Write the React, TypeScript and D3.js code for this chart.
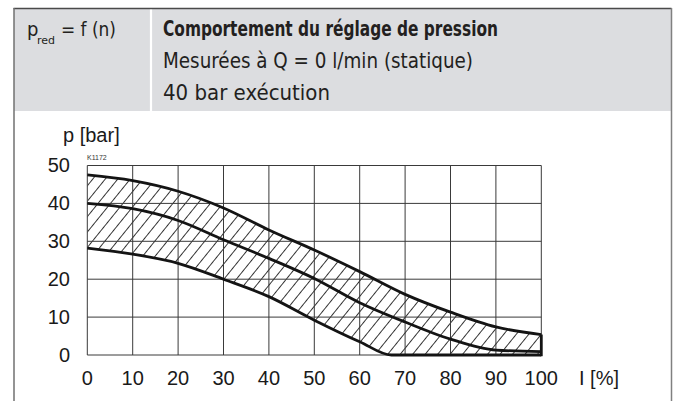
import React from "react";
import * as d3 from "d3";

// ---- data ----
const xTicks = [0, 10, 20, 30, 40, 50, 60, 70, 80, 90, 100];
const yTicks = [0, 10, 20, 30, 40, 50];
const xValues = [0, 10, 20, 30, 40, 50, 60, 70, 80, 90, 100];
const upperValues = [47.5, 46.0, 43.2, 38.8, 33.0, 27.7, 22.0, 16.0, 11.3, 7.4, 5.4];
const middleValues = [40.0, 38.6, 35.5, 30.4, 25.5, 20.2, 13.8, 8.7, 4.2, 1.3, 0.9];
const lowerX = [0, 10, 20, 30, 40, 50, 60, 67, 70, 80, 90, 100];
const lowerValues = [28.2, 26.6, 24.2, 20.0, 15.4, 9.2, 3.5, 0, 0, 0, 0, 0];

const titleLeft = "p";
const titleSub = "red";
const titleLeftRest = "= f (n)";
const titleLines = [
  "Comportement du réglage de pression",
  "Mesurées à Q = 0 l/min (statique)",
  "40 bar exécution",
];
const yLabel = "p [bar]";
const xLabel = "I [%]";
const codeLabel = "K1172";

type P = [number, number];

export default function App() {
  const W = 678;
  const H = 401;
  const x = d3.scaleLinear().domain([0, 100]).range([87.3, 541.3]);
  const y = d3.scaleLinear().domain([0, 50]).range([355, 165.5]);

  const upper: P[] = xValues.map((v, i) => [v, upperValues[i]]);
  const middle: P[] = xValues.map((v, i) => [v, middleValues[i]]);
  const lower: P[] = lowerX.map((v, i) => [v, lowerValues[i]]);

  const line = d3
    .line<P>()
    .x((d) => x(d[0]))
    .y((d) => y(d[1]))
    .curve(d3.curveMonotoneX);
  const area = d3
    .area<P>()
    .x((d) => x(d[0]))
    .y0(y(0))
    .y1((d) => y(d[1]))
    .curve(d3.curveMonotoneX);

  const chartFont = { fontFamily: '"Liberation Sans", Arimo, Arial, sans-serif' };
  const headFont = {
    fontFamily: '"Liberation Sans Narrow", "DejaVu Sans Condensed", Roboto, sans-serif',
  };
  const lastUpper = upperValues[upperValues.length - 1];

  return (
    <svg
      width={W}
      height={H}
      viewBox={`0 0 ${W} ${H}`}
      style={{ position: "absolute", left: 0, top: 0, background: "#fff" }}
    >
      <defs>
        <pattern
          id="hatch"
          patternUnits="userSpaceOnUse"
          width={9.7}
          height={9.7}
          patternTransform="rotate(39)"
        >
          <line x1={0.5} y1={-1} x2={0.5} y2={11} stroke="#222" strokeWidth={0.9} />
        </pattern>
        <mask id="band">
          <path d={area(upper) || ""} fill="white" />
          <path d={area(lower) || ""} fill="black" />
        </mask>
      </defs>

      {/* frame + header */}
      <rect x={14} y={8.5} width={657} height={102.5} fill="#dcdde0" />
      <line x1={151} y1={9} x2={151} y2={111} stroke="#fff" strokeWidth={2.2} />
      <line x1={13.5} y1={8.5} x2={671.5} y2={8.5} stroke="#4a4a4a" strokeWidth={1.5} />
      <line x1={14} y1={8} x2={14} y2={H} stroke="#707070" strokeWidth={1.5} />
      <line x1={671.5} y1={8} x2={671.5} y2={H} stroke="#808080" strokeWidth={1.5} />

      <text x={27} y={36} style={headFont} fontSize={20} fill="#231f20">
        {titleLeft}
      </text>
      <text x={37} y={43.5} style={headFont} fontSize={10.5} fill="#231f20" textLength={18} lengthAdjust="spacingAndGlyphs">
        {titleSub}
      </text>
      <text x={61} y={36} style={headFont} fontSize={20} fill="#231f20" textLength={55} lengthAdjust="spacingAndGlyphs">
        {titleLeftRest}
      </text>
      {titleLines.map((t, i) => (
        <text
          key={t}
          x={163}
          y={36 + i * 32}
          style={headFont}
          fontSize={20.5}
          fontWeight={i === 0 ? 700 : 400}
          fill="#231f20"
          textLength={[335, 310, 167][i]}
          lengthAdjust="spacingAndGlyphs"
        >
          {t}
        </text>
      ))}

      {/* hatch band */}
      <rect
        x={x(0)}
        y={y(50)}
        width={x(100) - x(0)}
        height={y(0) - y(50)}
        fill="url(#hatch)"
        mask="url(#band)"
      />

      {/* grid */}
      {xTicks.map((t) => (
        <line key={"gx" + t} x1={x(t)} x2={x(t)} y1={y(0)} y2={y(50)} stroke="#3a3a3a" strokeWidth={1} />
      ))}
      {yTicks.map((t) => (
        <line key={"gy" + t} x1={x(0)} x2={x(100)} y1={y(t)} y2={y(t)} stroke="#3a3a3a" strokeWidth={1} />
      ))}

      {/* curves */}
      <g fill="none" stroke="#141414" strokeWidth={2.8} strokeLinejoin="round">
        <path d={line(upper) || ""} />
        <path d={line(middle) || ""} />
        <path d={line(lower) || ""} />
        <line x1={x(100)} x2={x(100)} y1={y(0) + 1.2} y2={y(lastUpper)} />
      </g>

      {/* labels */}
      <g style={chartFont} fontSize={20} fill="#1a1a1a">
        {yTicks.map((t) => (
          <text key={"ly" + t} x={70} y={y(t) + 6.5} textAnchor="end">
            {t}
          </text>
        ))}
        {xTicks.map((t) => (
          <text key={"lx" + t} x={x(t)} y={385} textAnchor="middle">
            {t}
          </text>
        ))}
        <text x={63} y={142}>{yLabel}</text>
        <text x={579} y={385}>{xLabel}</text>
      </g>
      <text x={87} y={160} style={chartFont} fontSize={7} fill="#333">
        {codeLabel}
      </text>
    </svg>
  );
}
